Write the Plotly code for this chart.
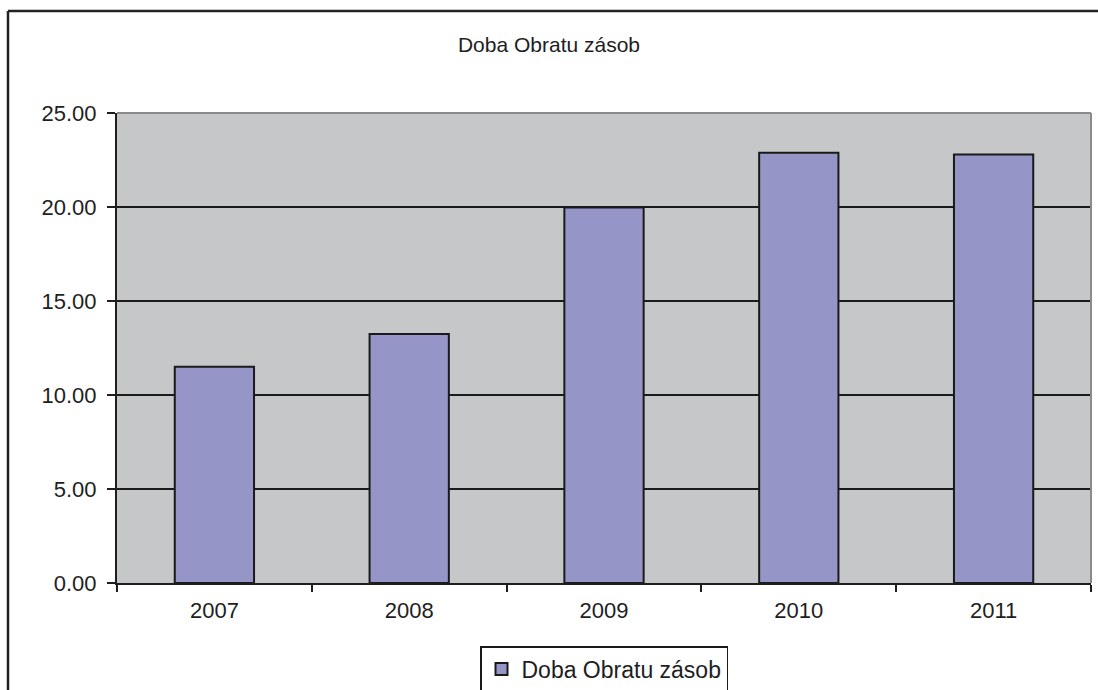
import plotly.graph_objects as go

# Inventory turnover period by year
years = ["2007", "2008", "2009", "2010", "2011"]
turnover_days = [11.50, 13.24, 19.98, 22.88, 22.79]
y_ticks = [0, 5, 10, 15, 20, 25]
y_tick_labels = ["0.00", "5.00", "10.00", "15.00", "20.00", "25.00"]

series_name = "Doba Obratu zásob"
chart_title = "Doba Obratu zásob"

W, H = 1098, 690
L, R, T, B = 117, 7, 113, 107
plot_w = W - L - R
plot_h = H - T - B

def px_to_paper_x(px):
    return (px - L) / plot_w

def px_to_paper_y(py):
    return (H - B - py) / plot_h

font = "Liberation Sans, Arial, sans-serif"
ink = "#1e1e1e"

fig = go.Figure()
fig.add_trace(go.Bar(
    x=years,
    y=turnover_days,
    name=series_name,
    marker=dict(color="#9595C8", line=dict(color="#1a1a1a", width=2)),
    showlegend=True,
))

fig.update_layout(
    width=W, height=H,
    margin=dict(l=L, r=R, t=T, b=B, pad=0, autoexpand=False),
    paper_bgcolor="white",
    plot_bgcolor="#C6C7C9",
    bargap=0.593,
    font=dict(family=font, color=ink),
    title=dict(
        text=chart_title,
        x=0.5, xref="container", xanchor="center",
        y=1 - 45 / H, yref="container", yanchor="middle",
        font=dict(size=21, family=font, color=ink),
    ),
    showlegend=True,
    legend=dict(
        x=0.5, xref="paper", xanchor="center",
        y=1 - 646 / H, yref="container", yanchor="top",
        orientation="h",
        bgcolor="white",
        bordercolor="#1a1a1a", borderwidth=1.5,
        font=dict(size=23, family=font, color=ink),
        itemsizing="constant",
    ),
    xaxis=dict(
        type="category",
        tickson="boundaries",
        ticks="outside", ticklen=7, tickwidth=2, tickcolor=ink,
        showline=True, linecolor=ink, linewidth=2,
        showgrid=False,
        ticklabelstandoff=7,
        tickfont=dict(size=22, family=font, color=ink),
    ),
    yaxis=dict(
        range=[0, 25],
        tickvals=y_ticks, ticktext=y_tick_labels,
        ticks="outside", ticklen=8, tickwidth=2, tickcolor=ink,
        showline=True, linecolor=ink, linewidth=2,
        showgrid=True, gridcolor="#1a1a1a", gridwidth=1.5,
        zeroline=False,
        ticklabelstandoff=6,
        tickfont=dict(size=22, family=font, color=ink),
    ),
)

# Grey top and right edges of the plot area
fig.add_shape(type="line", xref="paper", yref="paper",
              x0=0, x1=1, y0=1, y1=1,
              line=dict(color="#8a8a8a", width=2), layer="above")
fig.add_shape(type="line", xref="paper", yref="paper",
              x0=1, x1=1, y0=0, y1=1,
              line=dict(color="#8a8a8a", width=2), layer="above")

# Outer chart frame: top and left edges (the rest runs off the page)
fig.add_shape(type="line", xref="paper", yref="paper",
              x0=px_to_paper_x(8), x1=px_to_paper_x(W + 2),
              y0=px_to_paper_y(11), y1=px_to_paper_y(11),
              line=dict(color="#222222", width=2.5), layer="above")
fig.add_shape(type="line", xref="paper", yref="paper",
              x0=px_to_paper_x(8), x1=px_to_paper_x(8),
              y0=px_to_paper_y(11), y1=px_to_paper_y(H + 2),
              line=dict(color="#222222", width=2.5), layer="above")

fig.write_html("out.html")
